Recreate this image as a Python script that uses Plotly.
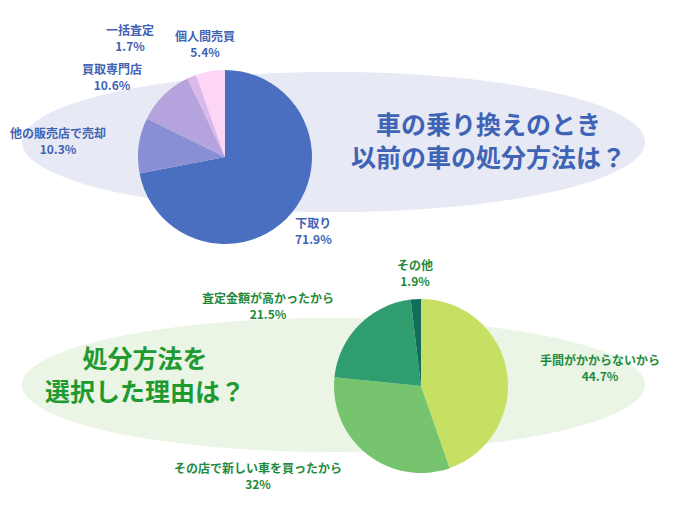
import plotly.graph_objects as go

W, H = 680, 510
OFF = 8  # page body margin

top_labels = ["下取り", "他の販売店で売却", "買取専門店", "一括査定", "個人間売買"]
top_values = [71.9, 10.3, 10.6, 1.7, 5.4]
top_colors = ["#4a6fc1", "#8a8ed4", "#b4a3dd", "#dab8ea", "#fdd6f6"]
top_text_pos = [(313, 230), (58, 141), (112, 77), (130, 37), (205, 44)]

bot_labels = ["手間がかからないから", "その店で新しい車を買ったから", "査定金額が高かったから", "その他"]
bot_values = [44.7, 32, 21.5, 1.9]
bot_colors = ["#c6e063", "#77c46e", "#2f9d6d", "#106e5a"]
bot_text_pos = [(600, 367), (258, 475), (268, 305), (415, 272)]


def px(x, y):
    return (x - OFF) / W, 1 - (y - OFF) / H


fig = go.Figure()


def add_pie(values, colors, cx, cy, r):
    x0, y1 = px(cx - r, cy - r)
    x1, y0 = px(cx + r, cy + r)
    fig.add_trace(go.Pie(
        values=values, sort=False, direction="clockwise", rotation=0,
        marker=dict(colors=colors, line=dict(width=0)), textinfo="none",
        hoverinfo="skip", showlegend=False,
        domain=dict(x=[x0, x1], y=[y0, y1]),
    ))


add_pie(top_values, top_colors, 225, 157, 87)
add_pie(bot_values, bot_colors, 421, 386, 87)


def ellipse(x0, y0, x1, y1, color):
    a, b = px(x0, y0)
    c, d = px(x1, y1)
    return dict(type="circle", xref="paper", yref="paper", layer="below", line=dict(width=0),
                fillcolor=color, x0=a, x1=c, y0=d, y1=b)


shapes = [ellipse(22, 72, 645, 212, "#e7e9f4"), ellipse(22, 318, 645, 452, "#eaf5e6")]

ann = []


def label(x, y, text, size, color):
    ax, ay = px(x, y)
    ann.append(dict(x=ax, y=ay, xref="paper", yref="paper", showarrow=False,
                    xanchor="center", yanchor="middle", text=text,
                    font=dict(size=size, color=color)))


for lab, v, (x, y) in zip(top_labels, top_values, top_text_pos):
    label(x, y, f"<b>{lab}<br>{v}%</b>", 12, "#4262b3")
for lab, v, (x, y) in zip(bot_labels, bot_values, bot_text_pos):
    label(x, y, f"<b>{lab}<br>{v:g}%</b>", 12, "#1f8a3e")

label(488, 140, "<b>車の乗り換えのとき<br>以前の車の処分方法は？</b>", 25, "#3f63b5")
label(145, 373, "<b>処分方法を<br>選択した理由は？</b>", 25, "#1f9a30")

fig.update_layout(
    width=W, height=H, margin=dict(l=0, r=0, t=0, b=0),
    paper_bgcolor="white", plot_bgcolor="white",
    font=dict(family="Noto Sans CJK JP"),
    shapes=shapes, annotations=ann,
)

fig.write_html("out.html")
